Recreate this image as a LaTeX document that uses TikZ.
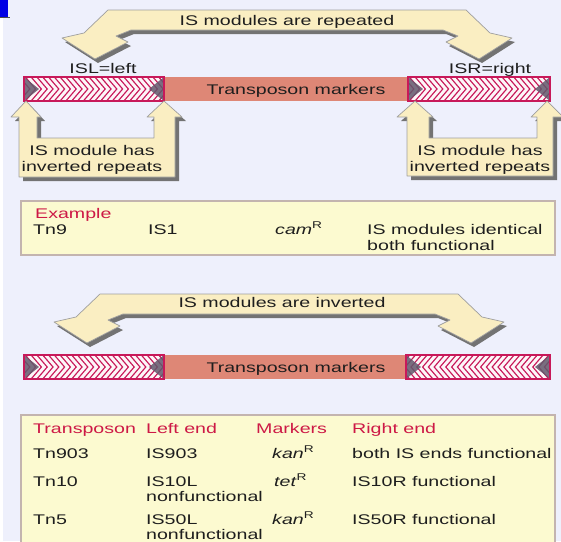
\documentclass[tikz,border=0pt]{standalone}
\usepackage{fontspec}
\setmainfont{Liberation Sans}
\usepackage{graphicx}
\definecolor{bg}{RGB}{238,240,252}
\definecolor{cream}{RGB}{250,238,194}
\definecolor{crim}{RGB}{200,25,90}
\definecolor{salmon}{RGB}{222,135,118}
\definecolor{tri}{RGB}{98,88,108}
\definecolor{boxy}{RGB}{252,250,208}
\definecolor{boxb}{RGB}{195,180,175}
\definecolor{txt}{RGB}{30,30,30}
\definecolor{redh}{RGB}{205,25,70}
\newcommand{\sx}[1]{\scalebox{1.4}[1]{#1}}
\newcommand{\isseg}[5]{%
  \begin{scope}
    \clip (#1,#3) rectangle (#2,#4);
    \fill[white!96!crim] (#1,#3) rectangle (#2,#4);
    \foreach \k in {0,...,30} {
      \pgfmathsetmacro{\xx}{#1-12+\k*5.8}
      \draw[crim, line width=1.15pt] (\xx,#3-2) -- ({\xx+#5*12},{(#3+#4)/2}) -- (\xx,#4+2);
    }
    \fill[tri, fill opacity=0.85] (#1,#3) -- (#1+15,{(#3+#4)/2}) -- (#1,#4) -- cycle;
    \fill[tri, fill opacity=0.85] (#2,#3) -- (#2-15,{(#3+#4)/2}) -- (#2,#4) -- cycle;
  \end{scope}
  \draw[crim, line width=1.2pt] (#1,#3) rectangle (#2,#4);
}
\tikzset{
  lbl/.style={inner sep=0pt, text=txt, font=\fontsize{14}{16}\selectfont, text height=10pt, text depth=3pt, yshift=-1.5pt},
  lblw/.style={lbl, anchor=west},
  hdr/.style={lblw, text=redh},
  bigarrow/.style={fill=cream, draw=gray!75, line width=0.7pt, line join=round},
  shade/.style={fill=black!55},
  tbox/.style={fill=boxy, draw=boxb, line width=1.5pt},
}
\begin{document}
\begin{tikzpicture}[x=1pt, y=-1pt]
\useasboundingbox (0,0) rectangle (561,541);
\clip (0,0) rectangle (561,541);
\fill[bg] (0,0) rectangle (561,541);
\fill[white] (0,18) rectangle (3,541);
\fill[blue!90!black] (0,0) rectangle (8,17);
\draw[black!70, line width=1pt] (0,17.5) -- (10,17.5);

% ---------- top double arrow ----------
\fill[shade, shift={(3,4)}] (108,10) -- (466,10) -- (490,33) -- (512,38) -- (479,59) -- (446,42) -- (458,36) -- (443,30) -- (131,30) -- (116,36) -- (128,42) -- (95,59) -- (62,38) -- (84,33) -- cycle;
\draw[bigarrow] (108,10) -- (466,10) -- (490,33) -- (512,38) -- (479,59) -- (446,42) -- (458,36) -- (443,30) -- (131,30) -- (116,36) -- (128,42) -- (95,59) -- (62,38) -- (84,33) -- cycle;
\node[lbl] (rep) at (287,20) {\sx{IS modules are repeated}};

\node[lbl] (isl) at (103,68) {\sx{ISL=left}};
\node[lbl] (isr) at (490,68) {\sx{ISR=right}};

% ---------- top bar ----------
\fill[salmon] (164,77) rectangle (408,101);
\isseg{24}{164}{77}{101}{1}
\isseg{408}{550}{77}{101}{1}
\node[lbl] (tm1) at (296,89) {\sx{Transposon markers}};

% ---------- callouts ----------
\fill[shade, shift={(4,4)}] (26,101) -- (41,117) -- (37,117) -- (37,138) -- (154,138) -- (154,117) -- (147,117) -- (164,101) -- (182,117) -- (175,117) -- (175,177) -- (19,177) -- (19,117) -- (11,117) -- cycle;
\draw[bigarrow] (26,101) -- (41,117) -- (37,117) -- (37,138) -- (154,138) -- (154,117) -- (147,117) -- (164,101) -- (182,117) -- (175,117) -- (175,177) -- (19,177) -- (19,117) -- (11,117) -- cycle;
\node[lbl] (cl1) at (92,150) {\sx{IS module has}};
\node[lbl] (cl2) at (92,166) {\sx{inverted repeats}};

\fill[shade, shift={(4,4)}] (415,101) -- (433,117) -- (429,117) -- (429,138) -- (537,138) -- (537,117) -- (531,117) -- (547,101) -- (563,117) -- (553,117) -- (553,176) -- (407,176) -- (407,117) -- (397,117) -- cycle;
\draw[bigarrow] (415,101) -- (433,117) -- (429,117) -- (429,138) -- (537,138) -- (537,117) -- (531,117) -- (547,101) -- (563,117) -- (553,117) -- (553,176) -- (407,176) -- (407,117) -- (397,117) -- cycle;
\node[lbl] (cr1) at (480,150) {\sx{IS module has}};
\node[lbl] (cr2) at (480,166) {\sx{inverted repeats}};

% ---------- example box ----------
\draw[tbox] (21,201) rectangle (555,255);
\node[hdr] (ex) at (35,213) {\sx{Example}};
\node[lblw] (e1) at (33,229) {\sx{Tn9}};
\node[lblw] (e2) at (148,229) {\sx{IS1}};
\node[lblw] (e3) at (275,229) {\sx{\textit{cam}\textsuperscript{R}}};
\node[lblw] (e4) at (367,229) {\sx{IS modules identical}};
\node[lblw] (e5) at (367,245) {\sx{both functional}};

% ---------- bottom double arrow ----------
\begin{scope}[shift={(-8,284)}]
\fill[shade, shift={(3,4)}] (108,10) -- (466,10) -- (490,33) -- (512,38) -- (479,59) -- (446,42) -- (458,36) -- (443,30) -- (131,30) -- (116,36) -- (128,42) -- (95,59) -- (62,38) -- (84,33) -- cycle;
\draw[bigarrow] (108,10) -- (466,10) -- (490,33) -- (512,38) -- (479,59) -- (446,42) -- (458,36) -- (443,30) -- (131,30) -- (116,36) -- (128,42) -- (95,59) -- (62,38) -- (84,33) -- cycle;
\end{scope}
\node[lbl] (inv) at (282,302) {\sx{IS modules are inverted}};

% ---------- bottom bar ----------
\fill[salmon] (164,355) rectangle (406,379);
\isseg{24}{164}{355}{379}{1}
\isseg{406}{550}{355}{379}{-1}
\node[lbl] (tm2) at (296,367) {\sx{Transposon markers}};

% ---------- table ----------
\draw[tbox] (21,415) rectangle (555,560);
\node[hdr] (h1) at (33,428) {\sx{Transposon}};
\node[hdr] (h2) at (146,428) {\sx{Left end}};
\node[hdr] (h3) at (256,428) {\sx{Markers}};
\node[hdr] (h4) at (352,428) {\sx{Right end}};

\node[lblw] (a1) at (33,453) {\sx{Tn903}};
\node[lblw] (a2) at (146,453) {\sx{IS903}};
\node[lblw] (a3) at (272,453) {\sx{\textit{kan}\textsuperscript{R}}};
\node[lblw] (a4) at (352,453) {\sx{both IS ends functional}};

\node[lblw] (b1) at (33,481) {\sx{Tn10}};
\node[lblw] (b2) at (146,481) {\sx{IS10L}};
\node[lblw] (b2n) at (146,496) {\sx{nonfunctional}};
\node[lblw] (b3) at (274,481) {\sx{\textit{tet}\textsuperscript{R}}};
\node[lblw] (b4) at (352,481) {\sx{IS10R functional}};

\node[lblw] (c1) at (33,519) {\sx{Tn5}};
\node[lblw] (c2) at (146,519) {\sx{IS50L}};
\node[lblw] (c2n) at (146,534) {\sx{nonfunctional}};
\node[lblw] (c3) at (272,519) {\sx{\textit{kan}\textsuperscript{R}}};
\node[lblw] (c4) at (352,519) {\sx{IS50R functional}};
\end{tikzpicture}
\end{document}
